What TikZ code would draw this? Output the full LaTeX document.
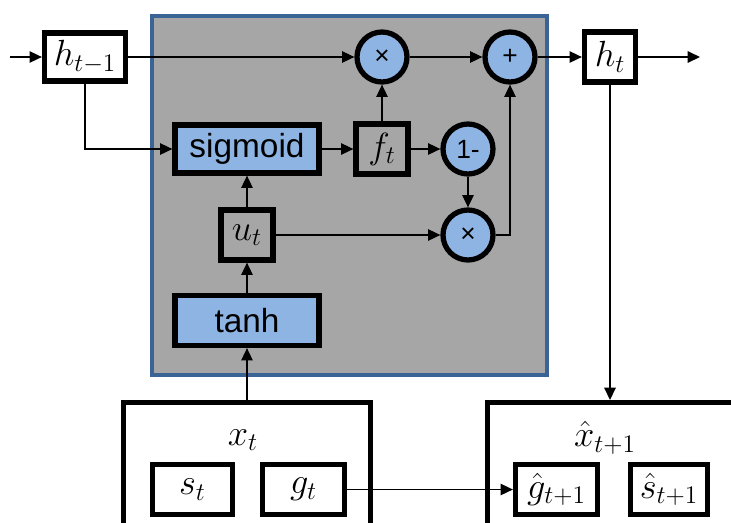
\documentclass[tikz,border=0pt]{standalone}
\usepackage{fontspec}
\setsansfont{Liberation Sans}
\usepackage{tikz}
\usetikzlibrary{arrows.meta}
\definecolor{cellgray}{HTML}{A6A6A6}
\definecolor{cellblue}{HTML}{3B6496}
\definecolor{oplightblue}{HTML}{8EB4E3}

\begin{document}
\begin{tikzpicture}[x=0.02cm, y=-0.02cm, >={Triangle[length=7pt, width=6.5pt]},
  link/.style={->, line width=0.8pt},
  var/.style={draw, line width=3pt, fill=white, inner sep=0pt, minimum height=10mm, font=\fontsize{21}{25}\selectfont},
  gate/.style={var, fill=oplightblue, minimum width=28.8mm, font=\sffamily\fontsize{19}{22}\selectfont},
  op/.style={circle, draw, line width=3pt, fill=oplightblue, inner sep=0pt, minimum size=10mm, font=\sffamily\fontsize{15}{18}\selectfont},
  bigbox/.style={draw, line width=3pt, fill=white, minimum height=40mm},
  boxlabel/.style={inner sep=0pt, font=\fontsize{21}{25}\selectfont}]
  \useasboundingbox (0,0) rectangle (731,522);
  \clip (0,0) rectangle (731,522);
  % the cell
  \draw[line width=2.3pt, draw=cellblue, fill=cellgray] (152,16) rectangle (547,375);

  \node[var, minimum width=16.2mm, minimum height=9.6mm] (hprev) at (85,57) {$h_{t-1}$};
  \node[var, minimum width=10.2mm] (ht) at (610,57) {$h_t$};
  \node[gate, minimum height=9.6mm] (sig) at (247,149) {sigmoid};
  \node[var, fill=cellgray, minimum width=10.4mm] (ft) at (382,149) {$f_t$};
  \node[var, fill=cellgray, minimum width=10.4mm] (ut) at (247,235) {$u_t$};
  \node[gate] (tanh) at (247,320.5) {tanh};
  \node[op] (mulf) at (382,57) {×};
  \node[op] (plus) at (510,57) {+};
  \node[op] (onem) at (468,149) {1-};
  \node[op] (mulu) at (468,235) {×};

  % input and prediction
  \node[bigbox, anchor=north, minimum width=49.4mm] (xt) at (247,400) {};
  \node[boxlabel] (xtlab) at (243,440) {$x_t$};
  \node[bigbox, anchor=north west, minimum width=70mm] (xhat) at (485,400) {};
  \node[boxlabel] (xhatlab) at (605,438) {$\hat{x}_{t+1}$};
  \node[var, minimum width=16mm] (st) at (192.5,489.5) {$s_t$};
  \node[var, minimum width=16.4mm] (gt) at (303.5,489.5) {$g_t$};
  \node[var, minimum width=16.4mm] (ghat) at (556.5,489.5) {$\hat{g}_{t+1}$};
  \node[var, minimum width=15.4mm] (shat) at (669,489.5) {$\hat{s}_{t+1}$};

  \coordinate (in) at (10,57);
  \coordinate (out) at (700,57);

  \draw[link] (in) -- (hprev);
  \draw[link] (hprev) -- (mulf);
  \draw[link] (hprev.south) |- (sig.west);
  \draw[link] (sig) -- (ft);
  \draw[link] (ft) -- (mulf);
  \draw[link] (mulf) -- (plus);
  \draw[link] (ft) -- (onem);
  \draw[link] (onem) -- (mulu);
  \draw[link] (ut) -- (mulu);
  \draw[link] (ut) -- (sig);
  \draw[link] (tanh) -- (ut);
  \draw[link] (xt.north) -- (tanh);
  \draw[link] (mulu.east) -| (plus.south);
  \draw[link] (plus) -- (ht);
  \draw[link] (ht) -- (out);
  \draw[link] (ht.south) -- (ht.south |- xhat.north);
  \draw[link] (gt) -- (ghat);
\end{tikzpicture}
\end{document}
